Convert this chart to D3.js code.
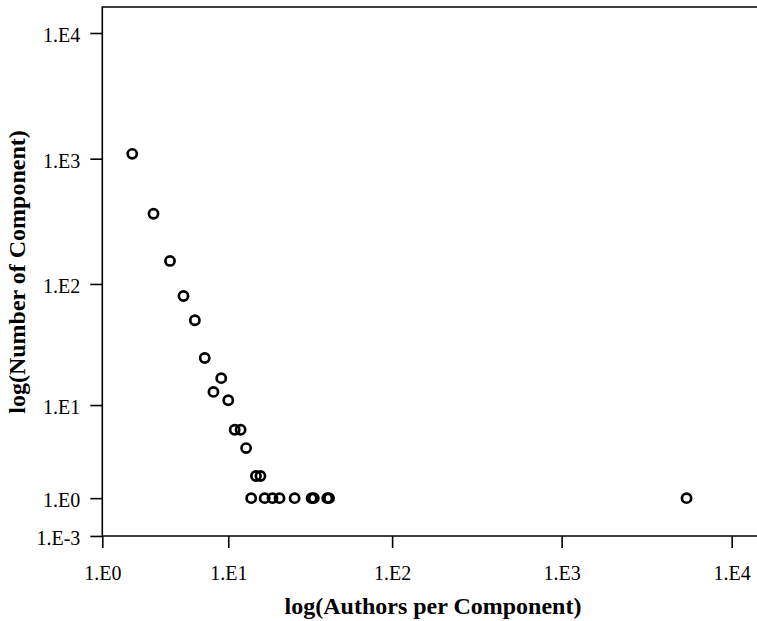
<!DOCTYPE html>
<html>
<head>
<meta charset="utf-8">
<script src="https://cdn.jsdelivr.net/npm/d3@7"></script>
<style>
  body { margin: 0; background: #fff; }
  svg { display: block; }
  .tick text { font-family: "Liberation Serif", "Times New Roman", serif; font-size: 20px; fill: #000; }
  .title { font-family: "Liberation Serif", "Times New Roman", serif; font-size: 24px; font-weight: bold; fill: #000; }
</style>
</head>
<body>
<script>
// authors per component (x) and number of components of that size (y)
var authors = [2, 3, 4, 5, 6, 7, 8, 9, 10, 11, 12, 13, 15, 16,
               14, 17, 19, 21, 26, 33, 34, 41, 42, 5427];
var components = [1093, 364, 153, 80, 51, 25, 13, 17, 11, 6, 6, 4, 2, 2,
                  1, 1, 1, 1, 1, 1, 1, 1, 1, 1];

var xTicks = [1, 10, 100, 1000, 10000];
var xTickLabels = ["1.E0", "1.E1", "1.E2", "1.E3", "1.E4"];
var yTicks = [0.001, 1, 10, 100, 1000, 10000];
var yTickLabels = ["1.E-3", "1.E0", "1.E1", "1.E2", "1.E3", "1.E4"];

var width = 757, height = 621;
var plotLeft = 102.3, plotTop = 7, plotBottom = 536;

var svg = d3.select("body").append("svg")
    .attr("width", width)
    .attr("height", height);

// the axes are log(1 + v), which is what a symlog scale with constant 1 does
var x = d3.scaleSymlog().constant(1).domain([1, 10000]).range([plotLeft, 731.7]);
var y = d3.scaleSymlog().constant(1).domain([0, 10000]).range([plotBottom, 33]);

var xAxis = svg.append("g")
    .attr("transform", "translate(0," + plotBottom + ")")
    .call(d3.axisBottom(x)
        .tickValues(xTicks)
        .tickFormat(function (d, i) { return xTickLabels[i]; })
        .tickSize(12)
        .tickSizeOuter(0)
        .tickPadding(18));
xAxis.select(".domain").remove();

var yAxis = svg.append("g")
    .attr("transform", "translate(" + plotLeft + ",0)")
    .call(d3.axisLeft(y)
        .tickValues(yTicks)
        .tickFormat(function (d, i) { return yTickLabels[i]; })
        .tickSize(12)
        .tickSizeOuter(0)
        .tickPadding(10));
yAxis.select(".domain").remove();
yAxis.selectAll(".tick text").attr("dy", "0.42em");

svg.selectAll(".tick line").attr("stroke", "#000").attr("stroke-width", 1.6);

// frame: top, left, bottom
svg.append("path")
    .attr("d", "M" + width + "," + plotTop + "H" + plotLeft + "V" + plotBottom + "H" + width)
    .attr("fill", "none")
    .attr("stroke", "#000")
    .attr("stroke-width", 1.6);

svg.selectAll("circle.pt")
    .data(authors)
    .enter()
    .append("circle")
    .attr("class", "pt")
    .attr("cx", function (d) { return x(d); })
    .attr("cy", function (d, i) { return y(components[i]); })
    .attr("r", 4.6)
    .attr("fill", "none")
    .attr("stroke", "#000")
    .attr("stroke-width", 2.7);

svg.append("text")
    .attr("class", "title")
    .attr("x", 433)
    .attr("y", 614)
    .attr("text-anchor", "middle")
    .text("log(Authors per Component)");

svg.append("text")
    .attr("class", "title")
    .attr("transform", "translate(25,272) rotate(-90)")
    .attr("text-anchor", "middle")
    .text("log(Number of Component)");
</script>
</body>
</html>
